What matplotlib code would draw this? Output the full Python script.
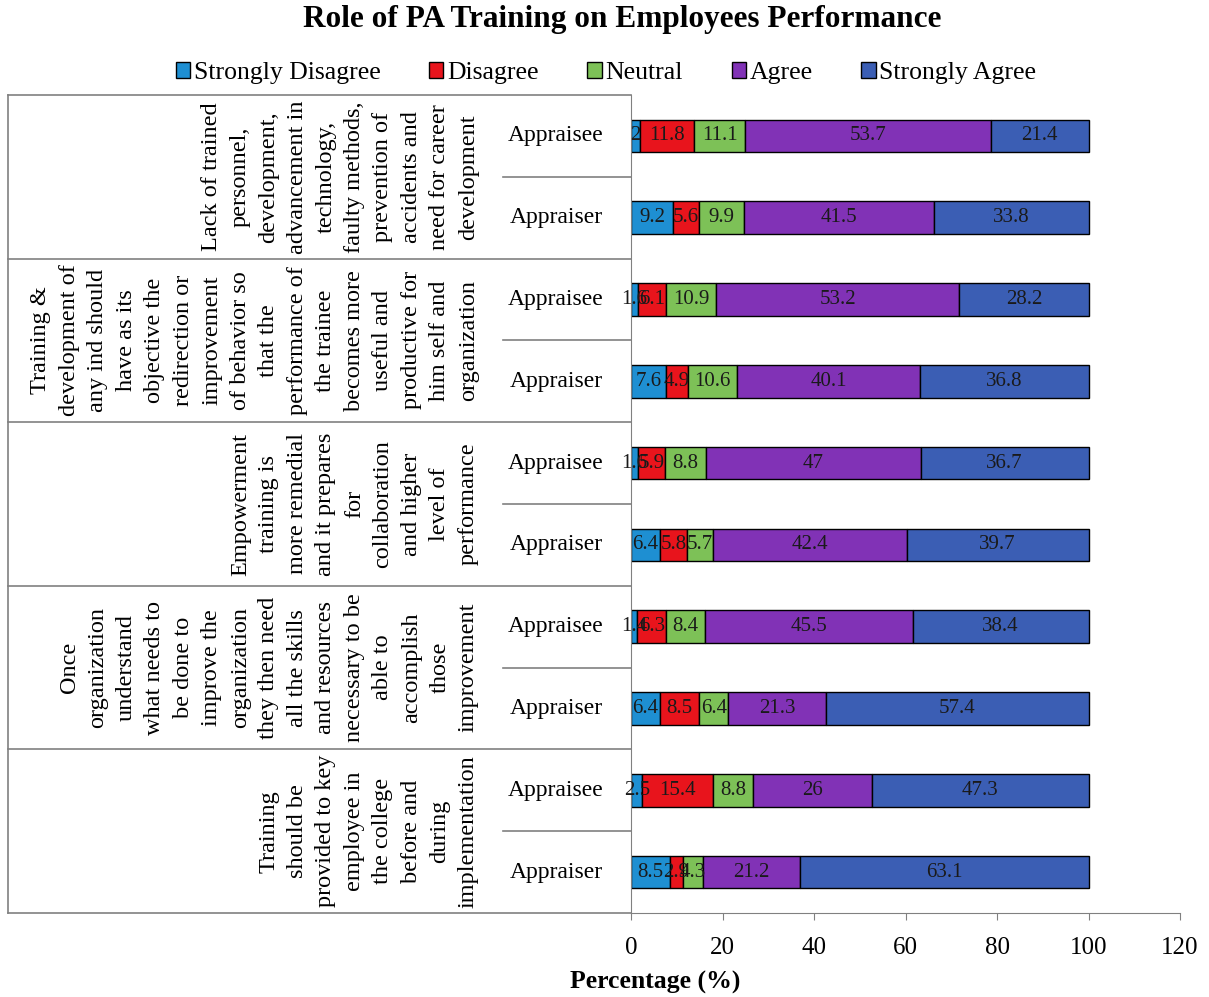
import matplotlib
matplotlib.use("Agg")
import matplotlib.pyplot as plt
import matplotlib.transforms as mtransforms
from matplotlib.patches import Patch

plt.rcParams["font.family"] = ["Liberation Serif", "DejaVu Serif"]

# ---- data ----
groups = [
    "Lack of trained\npersonnel,\ndevelopment,\nadvancement in\ntechnology,\nfaulty methods,\nprevention of\naccidents and\nneed for career\ndevelopment",
    "Training &\ndevelopment of\nany ind should\nhave as its\nobjective the\nredirection or\nimprovement\nof behavior so\nthat the\nperformance of\nthe trainee\nbecomes more\nuseful and\nproductive for\nhim self and\norganization",
    "Empowerment\ntraining is\nmore remedial\nand it prepares\nfor\ncollaboration\nand higher\nlevel of\nperformance",
    "Once\norganization\nunderstand\nwhat needs to\nbe done to\nimprove the\norganization\nthey then need\nall the skills\nand resources\nnecessary to be\nable to\naccomplish\nthose\nimprovement",
    "Training\nshould be\nprovided to key\nemployee in\nthe college\nbefore and\nduring\nimplementation",
]
respondents = ["Appraisee", "Appraiser"]

series_names = ["Strongly Disagree", "Disagree", "Neutral", "Agree", "Strongly Agree"]
strongly_disagree = [2.0, 9.2, 1.6, 7.6, 1.6, 6.4, 1.4, 6.4, 2.5, 8.5]
disagree = [11.8, 5.6, 6.1, 4.9, 5.9, 5.8, 6.3, 8.5, 15.4, 2.9]
neutral = [11.1, 9.9, 10.9, 10.6, 8.8, 5.7, 8.4, 6.4, 8.8, 4.3]
agree = [53.7, 41.5, 53.2, 40.1, 47.0, 42.4, 45.5, 21.3, 26.0, 21.2]
strongly_agree = [21.4, 33.8, 28.2, 36.8, 36.7, 39.7, 38.4, 57.4, 47.3, 63.1]

colors = ["#1E8FD2", "#E8141C", "#7DC157", "#8132B6", "#3B5EB4"]
series = [strongly_disagree, disagree, neutral, agree, strongly_agree]

# ---- figure ----
fig = plt.figure(figsize=(12.09, 9.97), dpi=100)
ax = fig.add_axes([631 / 1209, 1 - 913 / 997, 549 / 1209, 818 / 997])

n = len(strongly_disagree)
ypos = list(range(n))
left = [0.0] * n
for name, vals, col in zip(series_names, series, colors):
    ax.barh(ypos, vals, left=left, height=0.4, color=col,
            edgecolor="black", linewidth=1.0, label=name)
    for y, v, l in zip(ypos, vals, left):
        ax.text(l + v / 2, y, f"{v:g}", ha="center", va="center",
                fontsize=15, color="#1a1a1a")
    left = [a + b for a, b in zip(left, vals)]

ax.set_xlim(0, 120)
ax.set_ylim(n - 0.5, -0.5)
ax.set_xticks(range(0, 121, 20))
ax.tick_params(axis="x", labelsize=18, length=5, color="#808080", pad=12)
ax.set_yticks([])
for s in ["top", "right"]:
    ax.spines[s].set_visible(False)
for s in ["left", "bottom"]:
    ax.spines[s].set_color("#808080")
ax.set_xlabel("Percentage (%)", fontsize=18.5, fontweight="bold")
ax.xaxis.set_label_coords((655 - 631) / 549, (913 - 982) / 818)
ax.xaxis.label.set_va("center")

# multi-level category axis
trans = mtransforms.blended_transform_factory(ax.transAxes, ax.transData)
x_left = (8 - 631) / 549
x_sub = (503 - 631) / 549
for i in range(n + 1):
    y = i - 0.5
    x0 = x_left if i % 2 == 0 else x_sub
    ax.plot([x0, 0], [y, y], color="#808080", lw=1.2,
            transform=trans, clip_on=False)
ax.plot([x_left, x_left], [-0.5, n - 0.5], color="#808080", lw=1.2,
        transform=trans, clip_on=False)

for i in range(n):
    ax.text((556 - 631) / 549, i, respondents[i % 2], transform=trans,
            ha="center", va="center", fontsize=17)

for g, label in enumerate(groups):
    ax.text((479 - 631) / 549, 2 * g + 0.5, label, transform=trans,
            rotation=90, ha="right", va="center", multialignment="center",
            fontsize=17.5, linespacing=1.47)

fig.suptitle("Role of PA Training on Employees Performance", fontsize=22.5,
             fontweight="bold", x=622 / 1209, y=1 - 20 / 997, va="center")

handles = [Patch(facecolor=c, edgecolor="black", linewidth=1) for c in colors]
fig.legend(handles, series_names, loc="center", ncol=5,
           bbox_to_anchor=(606 / 1209, 1 - 73 / 997), frameon=False,
           fontsize=18.5, handlelength=0.55, handleheight=0.55, handletextpad=0.15,
           columnspacing=1.9)

fig.savefig("out.png", dpi=100)
